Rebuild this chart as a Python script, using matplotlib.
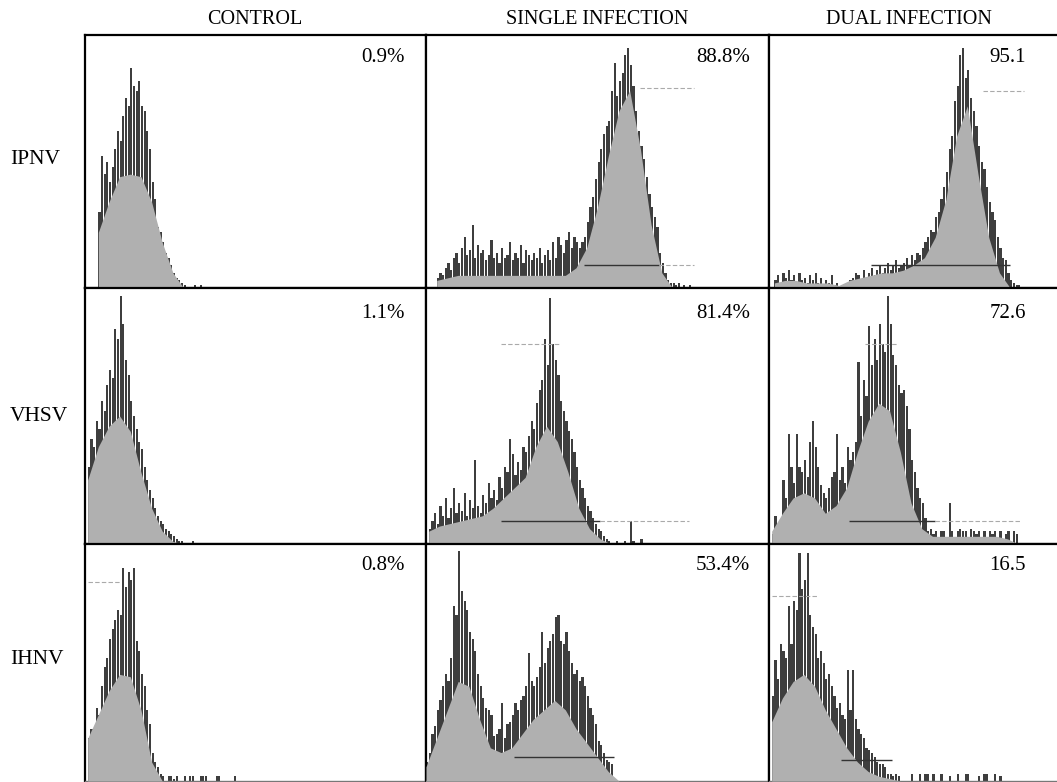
import numpy as np
import matplotlib
matplotlib.use("Agg")
import matplotlib.pyplot as plt

# --- Données (hauteurs en % de la hauteur du panneau) ---
col_titles = ["CONTROL", "SINGLE INFECTION", "DUAL INFECTION"]
row_labels = ["IPNV", "VHSV", "IHNV"]
pct_labels = [["0.9%", "88.8%", "95.1"],
              ["1.1%", "81.4%", "72.6"],
              ["0.8%", "53.4%", "16.5"]]

# pics (1 canal par valeur), premier canal = *_start
ipnv_ctrl_start = 5
ipnv_ctrl = [30, 52, 45, 50, 42, 48, 55, 62, 58, 68, 75, 72, 87, 80, 78, 82, 72, 70,
             62, 55, 42, 35, 24, 22, 18, 14, 12, 9, 6, 4, 3, 2, 1, 0, 0, 0, 1, 0, 1]
ipnv_single_start = 4
ipnv_single = [4, 6, 5, 8, 10, 7, 12,
               14, 10, 16, 20, 13, 15, 25, 12, 17, 14,
               15, 11, 13, 19, 12, 14, 10, 16, 12, 13,
               18, 11, 14, 12, 17, 10, 15, 13, 11, 14,
               12, 16, 10, 13, 15, 11, 18, 12, 20, 17,
               14, 19, 22, 16, 20, 18,
               16, 18, 20, 26, 32, 36, 43, 50, 55, 61, 64, 66, 78,
               89, 76, 82, 85, 92, 95, 88, 80, 70, 62,
               56, 51, 44, 37, 32, 28, 24, 14, 10, 6,
               3, 2, 2, 1, 2, 0, 1, 0, 1]
ipnv_dual_start = 2
ipnv_dual = [3, 5, 2, 6, 4, 7, 3, 5, 2, 6, 3, 4,
             2, 5, 3, 6, 2, 4, 1, 3, 2, 5, 1, 2,
             0, 1, 0, 2, 3, 4, 6, 5, 3, 7, 4, 6,
             8, 5, 7, 9, 6, 8, 10, 7, 9, 11, 8, 9,
             10, 12, 9, 13, 11, 14, 13, 16, 18, 20, 23, 22,
             28, 30, 35, 40, 46, 55, 60, 74, 80, 92, 95, 83,
             86, 75, 70, 64, 56, 50, 47, 40, 34, 30, 27, 20,
             16, 12, 11, 6, 3, 2, 1, 1]
vhsv_ctrl_start = 1
vhsv_ctrl = [30, 41, 38, 48, 45, 56, 52, 62, 68, 65, 84, 80,
             97, 86, 72, 66, 56, 50, 45, 40, 37, 30, 25, 21,
             18, 14, 11, 9, 8, 6, 5, 4, 3, 2, 1, 1, 0, 0, 0, 1]
vhsv_single_start = 1
vhsv_single = [6, 9, 12, 8, 15, 11, 18, 10, 14, 22, 12, 16,
               13, 20, 11, 17, 14, 33, 15, 12, 19, 16, 24, 18,
               21, 17, 26, 22, 30, 28, 41, 35, 27, 32, 29, 38,
               36, 42, 48, 45, 55, 60, 64, 80, 70, 96, 78, 72,
               66, 56, 52, 48, 44, 41, 36, 30, 25, 22, 18, 15,
               13, 10, 8, 6, 5, 3, 2, 1, 0, 0, 1, 0,
               0, 1, 0, 9, 1, 0, 0, 2]
vhsv_dual_start = 1
vhsv_dual = [4, 11, 6, 8, 25, 18, 43, 30, 24, 43, 30, 28,
             33, 26, 40, 48, 38, 30, 23, 20, 18, 22, 26, 28,
             43, 25, 30, 24, 38, 33, 36, 40, 71, 50, 64, 58,
             85, 70, 80, 72, 86, 78, 75, 97, 86, 74, 70, 62,
             59, 60, 54, 45, 33, 28, 22, 18, 16, 10, 5, 6,
             4, 5, 0, 5, 5, 0, 16, 5, 0, 5, 6, 5,
             5, 0, 6, 5, 4, 5, 0, 5, 0, 5, 4, 5,
             0, 5, 0, 4, 5, 0, 5, 4, 0]
ihnv_ctrl_start = 1
ihnv_ctrl = [18, 22, 20, 31, 28, 40, 48, 52, 60, 64, 68, 72,
             70, 90, 82, 88, 85, 90, 59, 55, 45, 40, 30, 24,
             12, 8, 6, 3, 2, 0, 2, 2, 1, 2, 0, 0,
             2, 0, 2, 2, 0, 0, 2, 2, 2, 0, 0, 0, 2, 2, 0, 0, 0, 0, 0, 2]
ihnv_single_start = 0
ihnv_single = [8, 12, 20, 23, 30, 34, 40, 45, 42, 52, 74, 70,
               97, 80, 76, 72, 63, 60, 55, 45, 40, 35, 31, 30,
               28, 19, 20, 22, 33, 18, 24, 25, 28, 33, 30, 34,
               36, 40, 54, 42, 40, 44, 48, 63, 50, 56, 59, 62,
               69, 70, 59, 58, 63, 55, 50, 45, 47, 42, 44, 40,
               36, 31, 28, 24, 17, 15, 12, 9, 8, 7, 0, 0]
ihnv_dual_start = 1
ihnv_dual = [36, 51, 43, 58, 55, 52, 74, 58, 76, 72, 96, 81,
             85, 96, 70, 65, 62, 52, 55, 50, 43, 45, 40, 36,
             31, 33, 28, 26, 47, 30, 47, 26, 22, 20, 18, 14,
             13, 12, 10, 8, 7, 7, 6, 3, 3, 2, 3, 2,
             0, 0, 0, 0, 3, 0, 0, 3, 0, 3, 3, 0,
             3, 0, 0, 3, 0, 0, 2, 0, 0, 3, 0, 0,
             3, 3, 0, 0, 0, 2, 0, 3, 3, 0, 0, 3, 0, 2, 0, 0]

# enveloppe grise (un point tous les 4 canaux, à partir du même canal)
ipnv_ctrl_body = [22, 34, 44, 45, 44, 34, 18, 6, 0]
ipnv_single_body = [3, 4, 5, 5, 5, 5, 5, 5, 5, 5, 5, 5, 5, 8, 16, 32, 52, 70, 78, 55, 25, 6, 0]
ipnv_dual_body = [2, 3, 3, 2, 2, 2, 1, 3, 4, 5, 6, 6, 7, 9, 12, 20, 35, 60, 72, 45, 20, 6, 0]
vhsv_ctrl_body = [25, 38, 46, 50, 44, 28, 14, 5, 1, 0]
vhsv_single_body = [5, 7, 8, 9, 10, 11, 14, 18, 22, 26, 38, 46, 40, 28, 14, 6, 2, 0]
vhsv_dual_body = [5, 12, 18, 20, 18, 12, 15, 22, 36, 48, 55, 52, 36, 16, 6, 3, 3, 3, 3, 3, 3, 3, 2, 0]
ihnv_ctrl_body = [18, 28, 38, 45, 44, 30, 8, 0]
ihnv_single_body = [6, 18, 30, 42, 40, 26, 14, 12, 14, 20, 26, 30, 34, 30, 22, 16, 10, 4, 0]
ihnv_dual_body = [25, 35, 42, 45, 40, 30, 22, 14, 8, 4, 2, 1, 0]

# marqueurs de région (hauteur, canal début, canal fin, sombre?)
gates = {
    (0, 1): [(9, 59, 87, True), (9, 87, 100, False), (79, 80, 100, False)],
    (0, 2): [(9, 38, 90, True), (78, 80, 95, False)],
    (1, 1): [(9, 28, 65, True), (9, 65, 98, False), (78, 28, 50, False)],
    (1, 2): [(9, 30, 62, True), (9, 62, 94, False), (78, 36, 48, False)],
    (2, 0): [(84, 1, 13, False)],
    (2, 1): [(10, 33, 70, True)],
    (2, 2): [(78, 1, 18, False), (9, 27, 46, True)],
}

spikes = [[(ipnv_ctrl_start, ipnv_ctrl), (ipnv_single_start, ipnv_single), (ipnv_dual_start, ipnv_dual)],
          [(vhsv_ctrl_start, vhsv_ctrl), (vhsv_single_start, vhsv_single), (vhsv_dual_start, vhsv_dual)],
          [(ihnv_ctrl_start, ihnv_ctrl), (ihnv_single_start, ihnv_single), (ihnv_dual_start, ihnv_dual)]]
bodies = [[ipnv_ctrl_body, ipnv_single_body, ipnv_dual_body],
          [vhsv_ctrl_body, vhsv_single_body, vhsv_dual_body],
          [ihnv_ctrl_body, ihnv_single_body, ihnv_dual_body]]

# --- Mise en page (pixels) ---
W, H = 1057, 782
col_x = [85, 426, 769]
col_w = [341, 343, 343]
row_top = [35, 288, 544]
row_bot = [288, 544, 781]
serif = "Liberation Serif"

fig = plt.figure(figsize=(W / 100, H / 100), dpi=100)

for r in range(3):
    for c in range(3):
        ax = fig.add_axes([col_x[c] / W, 1 - row_bot[r] / H,
                           col_w[c] / W, (row_bot[r] - row_top[r]) / H])
        start, vals = spikes[r][c]
        x = start + np.arange(len(vals))
        ax.bar(x, vals, width=0.82, align="edge", color="#1c1c1c",
               alpha=0.85, linewidth=0, zorder=2)
        body = bodies[r][c]
        bx = start + 4 * np.arange(len(body))
        ax.fill_between(bx, body, color="#b0b0b0", linewidth=0, zorder=3)
        for (gy, g0, g1, dark) in gates.get((r, c), []):
            if dark:
                ax.hlines(gy, g0, g1, color="#333333", linewidth=1.0, zorder=4)
            else:
                ax.hlines(gy, g0, g1, color="#aaaaaa", linewidth=0.8,
                          linestyles=(0, (4, 2)), zorder=4)
        ax.set_xlim(0, 128)
        ax.set_ylim(0, 100)
        ax.set_xticks([])
        ax.set_yticks([])
        for s in ax.spines.values():
            s.set_linewidth(1.6)
            s.set_color("black")
        if r == 2:
            ax.spines["bottom"].set_linewidth(1.0)
            ax.spines["bottom"].set_color("#777777")

# titres de colonnes
col_cx = [255, 597, 909]
for c, t in enumerate(col_titles):
    fig.text(col_cx[c] / W, 1 - 20 / H, t, ha="center", va="center",
             fontsize=14.5, family=serif)

# étiquettes de lignes
row_cy = [160, 416, 660]
for r, t in enumerate(row_labels):
    fig.text(10 / W, 1 - row_cy[r] / H, t, ha="left", va="center",
             fontsize=15.5, family=serif)

# pourcentages
pct_x = [405, 750, 1026]
pct_y = [57, 314, 565]
for r in range(3):
    for c in range(3):
        fig.text(pct_x[c] / W, 1 - pct_y[r] / H, pct_labels[r][c], ha="right",
                 va="center", fontsize=15, family=serif)

fig.savefig("out.png", dpi=100)
